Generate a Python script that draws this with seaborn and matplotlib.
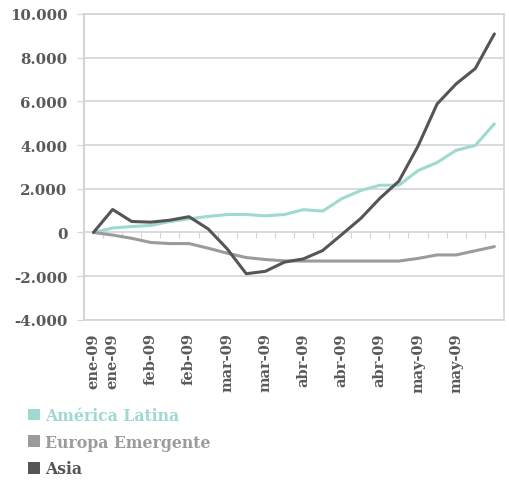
import numpy as np
import pandas as pd
import seaborn as sns
import matplotlib.pyplot as plt
from matplotlib.patches import Patch
from matplotlib.ticker import FuncFormatter

sns.set_style('white')
plt.rcParams['font.family'] = ['DejaVu Serif']

# weekly data, 22 points
weeks = list(range(22))
america_latina = [0, 200, 270, 320, 500, 620, 730, 820, 820, 760, 820,
                  1040, 975, 1540, 1920, 2160, 2160, 2830, 3200, 3760, 3980, 4970]
europa_emergente = [0, -120, -270, -460, -510, -510, -720, -950, -1150, -1240, -1300,
                    -1310, -1310, -1310, -1310, -1310, -1310, -1190, -1030, -1030, -840, -650]
asia = [0, 1050, 500, 470, 560, 720, 165, -750, -1890, -1780, -1360,
        -1210, -830, -100, 640, 1560, 2350, 3950, 5880, 6800, 7500, 9085]

label_pos = [0, 1, 3, 5, 7, 9, 11, 13, 15, 17, 19]
label_txt = ['ene-09', 'ene-09', 'feb-09', 'feb-09', 'mar-09', 'mar-09',
             'abr-09', 'abr-09', 'abr-09', 'may-09', 'may-09']

series = ['América Latina', 'Europa Emergente', 'Asia']
colors = ['#9fd9cf', '#9b9b9d', '#555557']

df = pd.DataFrame({
    'semana': weeks * 3,
    'valor': america_latina + europa_emergente + asia,
    'serie': [s for s in series for _ in weeks],
})

txt_col = '#595959'
grid_col = '#d4d4d4'

fig = plt.figure(figsize=(5.09, 4.81), dpi=100)
ax = fig.add_axes([0.165, 0.333, 0.825, 0.636])

sns.lineplot(data=df, x='semana', y='valor', hue='serie', palette=colors,
             linewidth=2.2, legend=False, ax=ax)

ax.set_xlim(-0.5, 21.5)
ax.set_ylim(-4000, 10000)
ax.set_yticks(range(-4000, 10001, 2000))
ax.yaxis.set_major_formatter(FuncFormatter(lambda v, p: f'{v:,.0f}'.replace(',', '.')))
ax.grid(axis='y', color=grid_col, linewidth=1.2)
ax.set_axisbelow(True)
for s in ax.spines.values():
    s.set_color(grid_col)
    s.set_linewidth(1.2)
ax.spines['left'].set_linewidth(1.5)

ax.set_xticks(label_pos)
ax.set_xticklabels(label_txt, rotation=90)
ax.tick_params(axis='x', length=0, pad=9, labelsize=10.5, labelcolor=txt_col)
ax.tick_params(axis='y', left=True, length=5, color=grid_col, pad=7,
               labelsize=10.8, labelcolor=txt_col)
for t in ax.get_xticklabels() + ax.get_yticklabels():
    t.set_fontweight('bold')
ax.set_xlabel('')
ax.set_ylabel('')

# small category ticks along the zero line
sec = ax.secondary_xaxis(4000 / 14000)
sec.set_xticks(np.arange(-0.5, 21.6, 1))
sec.tick_params(axis='x', direction='out', length=4, color=grid_col, labelbottom=False)
sec.spines['bottom'].set_visible(False)

handles = [Patch(facecolor=c, edgecolor='none') for c in colors]
leg = fig.legend(handles, series, loc='upper left', bbox_to_anchor=(0.055, 0.152),
                 frameon=False, handlelength=0.75, handleheight=0.75, handletextpad=0.35,
                 labelspacing=0.62, borderpad=0, borderaxespad=0,
                 prop={'size': 11.3, 'weight': 'bold'})
for t, c in zip(leg.get_texts(), colors):
    t.set_color(c)

fig.savefig('out.png', dpi=100)
